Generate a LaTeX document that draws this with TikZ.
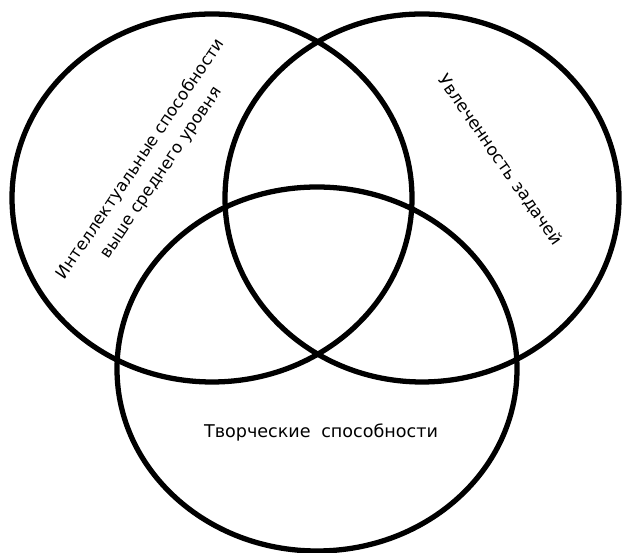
\documentclass[tikz,border=0pt]{standalone}
\usepackage{fontspec}
\setmainfont{DejaVu Sans}

\begin{document}
\begin{tikzpicture}[
    ring/.style={line width=3pt},
    txt/.style={font=\fontsize{10}{14}\selectfont, align=center, inner sep=0pt}
]
    \useasboundingbox (0,0) rectangle (12.44,11.06);

    \draw[ring] (4.24,7.10) ellipse [x radius=4.0cm, y radius=3.68cm];
    \draw[ring] (8.44,7.10) ellipse [x radius=3.94cm, y radius=3.68cm];
    \draw[ring] (6.34,3.68) ellipse [x radius=4.0cm, y radius=3.64cm];

    \node[txt, font=\fontsize{9.5}{14}\selectfont, rotate=56] (intel) at (3.02,7.74) {Интеллектуальные способности\\выше среднего уровня};
    \node[txt, font=\fontsize{9.7}{14}\selectfont, rotate=-55] (task) at (10.0,7.86) {Увлеченность задачей};
    \node[txt] (creat) at (6.42,2.40) {Творческие\hspace{0.6em}способности};
\end{tikzpicture}
\end{document}
